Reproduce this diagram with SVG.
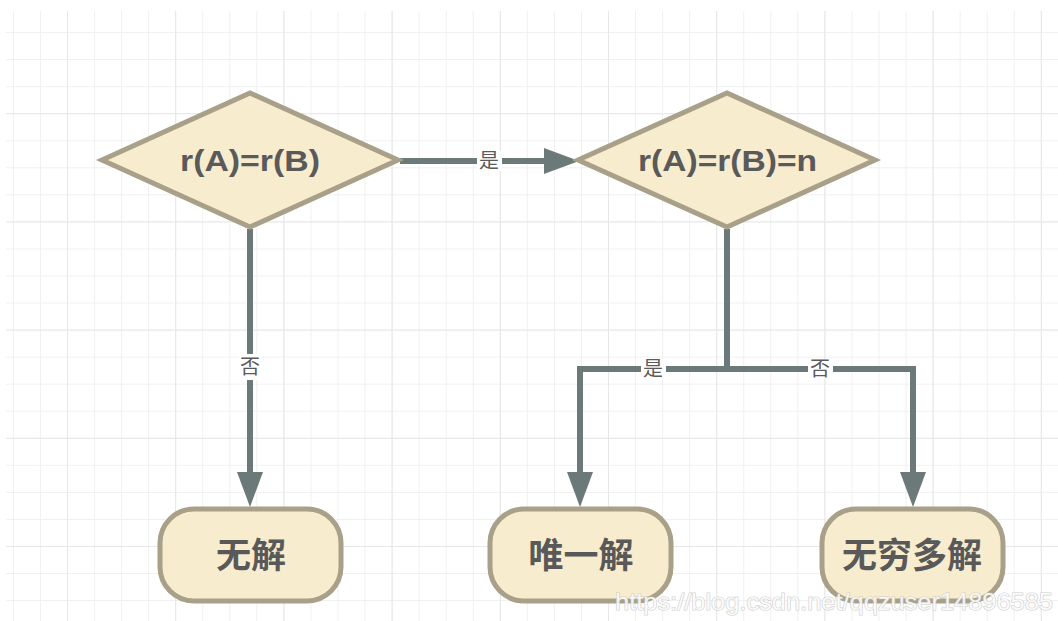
<svg xmlns="http://www.w3.org/2000/svg" width="1058" height="621" viewBox="0 0 1058 621">
  <style>
    .shape { fill: #f8ecce; stroke: #a8a088; stroke-width: 5; }
    .title { font-family: "Liberation Sans", Arial, sans-serif; font-weight: bold; font-size: 29px; fill: #5a5a5a; text-anchor: middle; }
    .cjk { font-family: "Noto Sans CJK SC", sans-serif; font-weight: bold; font-size: 35px; fill: #595959; text-anchor: middle; }
    .edge { fill: none; stroke: #6b7a79; stroke-width: 6; }
    .lbl { font-family: "Noto Sans CJK SC", sans-serif; font-size: 20px; fill: #5a5a5a; text-anchor: middle; }
    .lblbg { fill: #ffffff; }
  </style>
  <defs>
    <pattern id="minor" patternUnits="userSpaceOnUse" x="12.9" y="5" width="27.05" height="27.05">
      <path d="M0 0 V27.05 M0 0 H27.05" stroke="#f0f0f0" stroke-width="2" fill="none"/>
    </pattern>
    <pattern id="major" patternUnits="userSpaceOnUse" x="67" y="5" width="108.2" height="108.2">
      <path d="M0 0 V108.2 M0 0 H108.2" stroke="#e7e7e7" stroke-width="2" fill="none"/>
    </pattern>
    <marker id="arrow" markerUnits="userSpaceOnUse" markerWidth="36" markerHeight="26" refX="1" refY="13" orient="auto">
      <path d="M0 0 L35 13 L0 26 Z" fill="#6b7a79"/>
    </marker>
  </defs>

  <rect x="0" y="0" width="1058" height="621" fill="#ffffff"/>
  <g id="grid">
    <rect x="6" y="11" width="1052" height="610" fill="url(#minor)"/>
    <rect x="6" y="11" width="1052" height="610" fill="url(#major)"/>
  </g>

  <g id="connectors">
    <path class="edge" d="M400 161 H545" marker-end="url(#arrow)"/>
    <path class="edge" d="M250 229 V473" marker-end="url(#arrow)"/>
    <path class="edge" d="M727 229 V369 H580 V473" marker-end="url(#arrow)"/>
    <path class="edge" d="M727 369 H913 V473" marker-end="url(#arrow)"/>
    <g id="labels">
      <rect class="lblbg" x="477" y="151" width="25" height="20"/>
      <text class="lbl" x="489" y="168">是</text>
      <rect class="lblbg" x="239" y="354" width="23" height="26"/>
      <text class="lbl" x="250" y="374">否</text>
      <rect class="lblbg" x="641" y="359" width="25" height="20"/>
      <text class="lbl" x="653" y="376">是</text>
      <rect class="lblbg" x="808" y="359" width="25" height="20"/>
      <text class="lbl" x="820" y="376">否</text>
    </g>
  </g>

  <g id="node-d1">
    <polygon class="shape" points="102,160 250,93 398,160 250,227"/>
    <text class="title" x="250" y="171" textLength="140" lengthAdjust="spacingAndGlyphs">r(A)=r(B)</text>
  </g>
  <g id="node-d2">
    <polygon class="shape" points="578,160 727,93 875,160 727,227"/>
    <text class="title" x="727.5" y="171" textLength="179" lengthAdjust="spacingAndGlyphs">r(A)=r(B)=n</text>
  </g>
  <g id="node-none">
    <rect class="shape" x="160" y="509" width="181" height="92" rx="34" ry="34"/>
    <text class="cjk" x="251" y="568">无解</text>
  </g>
  <g id="node-unique">
    <rect class="shape" x="490" y="509" width="181" height="92" rx="34" ry="34"/>
    <text class="cjk" x="581" y="568">唯一解</text>
  </g>
  <g id="node-inf">
    <rect class="shape" x="822" y="509" width="181" height="92" rx="34" ry="34"/>
    <text class="cjk" x="912" y="568">无穷多解</text>
  </g>

  <text x="615" y="610" font-family="Liberation Sans, Arial, sans-serif" font-size="24" textLength="438" lengthAdjust="spacingAndGlyphs" fill="#ffffff" fill-opacity="0.85" stroke="#c4c4c4" stroke-width="1.2" stroke-opacity="0.8" paint-order="stroke">https://blog.csdn.net/qqzuser14896585</text>
</svg>
